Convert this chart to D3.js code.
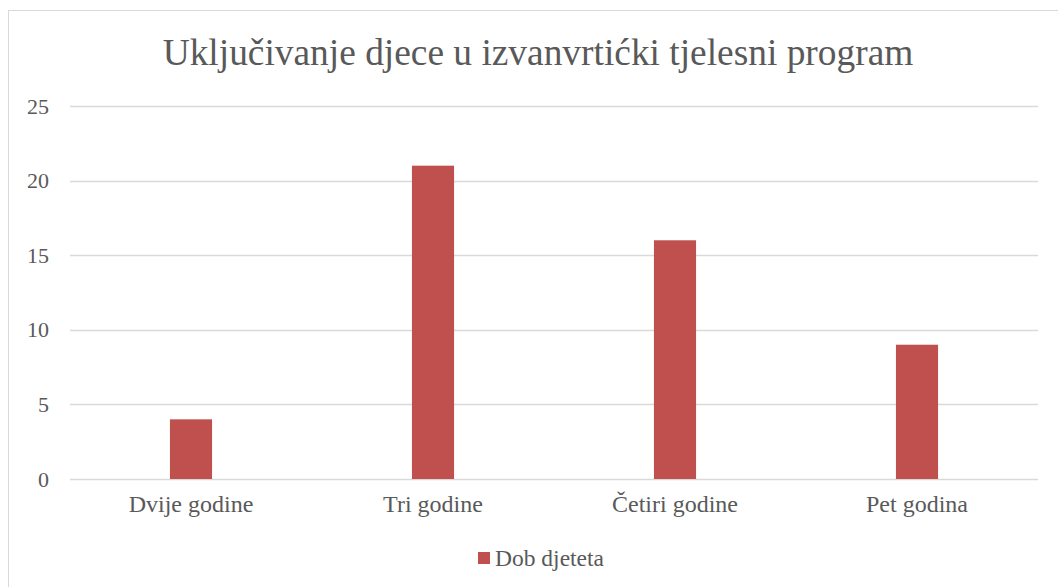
<!DOCTYPE html>
<html>
<head>
<meta charset="utf-8">
<script src="https://cdn.jsdelivr.net/npm/d3@7"></script>
<style>
  body { margin: 0; background: #fff; }
</style>
</head>
<body>
<div id="chart"></div>
<script>
const categories = ["Dvije godine", "Tri godine", "Četiri godine", "Pet godina"];
const values = [4, 21, 16, 9];
const yTicks = [0, 5, 10, 15, 20, 25];
const seriesName = "Dob djeteta";
const title = "Uključivanje djece u izvanvrtićki tjelesni program";

const width = 1058, height = 587;
const plot = { left: 70, right: 1038, top: 106, bottom: 479 };
const color = "#c0504d";
const font = "'Times New Roman', 'Liberation Serif', serif";
const textColor = "#595959";

const svg = d3.select("#chart")
  .append("svg")
  .attr("width", width)
  .attr("height", height);

// chart frame
svg.append("rect")
  .attr("x", 8.5).attr("y", 10.5)
  .attr("width", 1100).attr("height", 700)
  .attr("fill", "none")
  .attr("stroke", "#d9d9d9");

const x = d3.scaleBand()
  .domain(categories)
  .range([plot.left, plot.right])
  .paddingInner(0.826)
  .paddingOuter(0.413);

const y = d3.scaleLinear()
  .domain([0, 25])
  .range([plot.bottom, plot.top]);

// gridlines
svg.append("g")
  .selectAll("line")
  .data(yTicks)
  .join("line")
  .attr("x1", plot.left)
  .attr("x2", plot.right)
  .attr("y1", d => Math.round(y(d)) + 0.5)
  .attr("y2", d => Math.round(y(d)) + 0.5)
  .attr("stroke", "#d9d9d9")
  .attr("stroke-width", 1.3);

// y axis labels
const yAxis = svg.append("g")
  .attr("transform", `translate(${plot.left},0)`)
  .call(d3.axisLeft(y).tickValues(yTicks).tickSize(0).tickPadding(21));
yAxis.select(".domain").remove();
yAxis.attr("font-family", font).attr("font-size", 22);
yAxis.selectAll("text")
  .attr("fill", textColor)
  .attr("dy", "0.32em");

// x axis labels
const xAxis = svg.append("g")
  .attr("transform", `translate(0,${plot.bottom})`)
  .call(d3.axisBottom(x).tickSize(0).tickPadding(16));
xAxis.select(".domain").remove();
xAxis.attr("font-family", font).attr("font-size", 24);
xAxis.selectAll("text").attr("fill", textColor);

// bars
svg.append("g")
  .selectAll("rect")
  .data(values)
  .join("rect")
  .attr("x", (d, i) => x(categories[i]))
  .attr("y", d => y(d))
  .attr("width", x.bandwidth())
  .attr("height", d => y(0) - y(d))
  .attr("fill", color);

// title
svg.append("text")
  .attr("x", 538)
  .attr("y", 65)
  .attr("text-anchor", "middle")
  .attr("font-family", font)
  .attr("font-size", 37.4)
  .attr("fill", textColor)
  .text(title);

// legend
const legend = svg.append("g").attr("transform", "translate(478,552)");
legend.append("rect")
  .attr("width", 12).attr("height", 12)
  .attr("fill", color);
legend.append("text")
  .attr("x", 17).attr("y", 14)
  .attr("font-family", font)
  .attr("font-size", 23.5)
  .attr("fill", textColor)
  .text(seriesName);
</script>
</body>
</html>
